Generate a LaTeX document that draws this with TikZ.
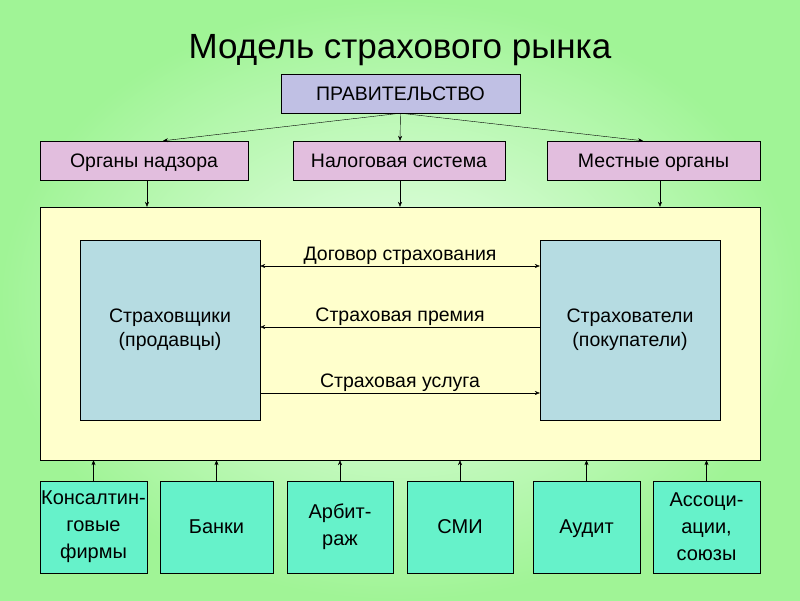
\documentclass[tikz,border=0pt]{standalone}
\usepackage{fontspec}
\setmainfont{Liberation Sans}
\usetikzlibrary{arrows.meta}

\definecolor{govC}{RGB}{192,192,228}
\definecolor{pinkC}{RGB}{226,190,222}
\definecolor{yelC}{RGB}{255,255,204}
\definecolor{blueC}{RGB}{182,220,226}
\definecolor{tealC}{RGB}{102,242,202}

\tikzstyle{gS}=[draw,fill=govC,minimum width=239pt,minimum height=39pt,inner sep=0pt,text height=16pt,text depth=3pt,font=\fontsize{19.5}{22}\selectfont]
\tikzstyle{pS}=[draw,fill=pinkC,minimum height=39pt,inner sep=0pt,text height=16pt,text depth=3pt,font=\fontsize{19.5}{22}\selectfont]
\tikzstyle{mS}=[draw,fill=yelC,minimum width=720pt,minimum height=253pt,inner sep=0pt]
\tikzstyle{sS}=[draw,fill=blueC,minimum width=180pt,minimum height=180pt,inner sep=0pt,align=center,font=\fontsize{19.5}{24}\selectfont]
\tikzstyle{bS}=[draw,fill=tealC,minimum height=92pt,inner sep=0pt,align=center,font=\fontsize{20}{27}\selectfont]
\tikzstyle{bOne}=[text height=16.5pt,text depth=3.5pt]
\tikzstyle{aS}=[-{Stealth[length=5pt,width=4pt]},thin]
\tikzstyle{lS}=[inner sep=1pt,font=\fontsize{19.5}{22}\selectfont]

\begin{document}
\begin{tikzpicture}[x=1pt,y=-1pt]
                \useasboundingbox (0,0) rectangle (800,600);
                \shade[inner color=green!8!white,outer color={rgb,255:red,160;green,244;blue,150}] (0,0) rectangle (800,600);
                \draw (400,50) node (title) {\fontsize{35}{40}\selectfont Модель страхового рынка};
                % top level
                \draw (400.5,93.5) node[gS] (gov) {ПРАВИТЕЛЬСТВО};
                \draw (144,160.5) node[pS,minimum width=208pt] (nadz) {Органы надзора};
                \draw (399,160.5) node[pS,minimum width=212pt] (nalog) {Налоговая система};
                \draw (653.5,160.5) node[pS,minimum width=213pt] (mest) {Местные органы};
                % market
                \draw (400,333.5) node[mS] (rynok) {};
                \draw (170,330) node[sS] (strahovshiki) {Страховщики\\(продавцы)};
                \draw (630,330) node[sS] (strahovateli) {Страхователи\\(покупатели)};
                % bottom row
                \draw (93.5,527) node[bS,minimum width=107pt] (b1) {Консалтин-\\говые\\фирмы};
                \draw (216.5,527) node[bS,bOne,minimum width=113pt] (b2) {Банки};
                \draw (340,527) node[bS,minimum width=106pt] (b3) {Арбит-\\раж};
                \draw (460,527) node[bS,bOne,minimum width=106pt] (b4) {СМИ};
                \draw (586.5,527) node[bS,bOne,minimum width=107pt] (b5) {Аудит};
                \draw (706.5,527) node[bS,minimum width=107pt] (b6) {Ассоци-\\ации,\\союзы};
                \path
                    (gov.south) edge[aS] ([xshift=19pt]nadz.north)
                    (gov.south) edge[aS] ([xshift=1pt]nalog.north)
                    (gov.south) edge[aS] ([xshift=-10.5pt]mest.north)
                    ([xshift=3pt]nadz.south) edge[aS] ([xshift=3pt]nadz.south |- rynok.north)
                    ([xshift=1pt]nalog.south) edge[aS] ([xshift=1pt]nalog.south |- rynok.north)
                    ([xshift=6.5pt]mest.south) edge[aS] ([xshift=6.5pt]mest.south |- rynok.north)
                    ([yshift=64pt]strahovshiki.east) edge[{Stealth[length=5pt,width=4pt]}-{Stealth[length=5pt,width=4pt]},thin] node[lS,above]{Договор страхования} ([yshift=64pt]strahovateli.west)
                    ([yshift=3pt]strahovateli.west) edge[aS] node[lS,above]{Страховая премия} ([yshift=3pt]strahovshiki.east)
                    ([yshift=-63pt]strahovshiki.east) edge[aS] node[lS,above]{Страховая услуга} ([yshift=-63pt]strahovateli.west)
                ;
                \foreach \b in {b1,b2,b3,b4,b5,b6}
                    \draw[aS] (\b.north) -- (\b.north |- rynok.south);
        \end{tikzpicture}
\end{document}
